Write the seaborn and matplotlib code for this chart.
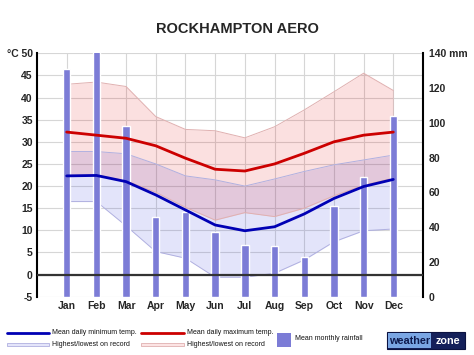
import numpy as np
import pandas as pd
import matplotlib
matplotlib.use("Agg")
import matplotlib.pyplot as plt
import seaborn as sns
from matplotlib.lines import Line2D
from matplotlib.patches import Rectangle

# values
months = ['Jan', 'Feb', 'Mar', 'Apr', 'May', 'Jun', 'Jul', 'Aug', 'Sep', 'Oct', 'Nov', 'Dec']
meanMax = [32.2, 31.5, 30.8, 29.1, 26.3, 23.8, 23.4, 25.0, 27.4, 30.0, 31.5, 32.2]
meanMin = [22.3, 22.4, 21.0, 18.0, 14.6, 11.2, 9.9, 10.8, 13.7, 17.2, 19.9, 21.5]
maxHighest = [43.0, 43.5, 42.5, 35.7, 32.8, 32.5, 30.9, 33.4, 37.2, 41.3, 45.5, 41.6]
maxLowest = [22.4, 22.5, 21.2, 18.6, 15.2, 12.3, 14.0, 13.1, 15.0, 17.8, 20.2, 21.8]
minHighest = [27.8, 27.8, 27.3, 25.0, 22.3, 21.4, 20.0, 21.6, 23.3, 24.8, 25.9, 27.0]
minLowest = [16.5, 16.5, 11.0, 5.2, 3.7, -0.6, -0.6, 0.3, 3.3, 7.4, 9.9, 10.3]
rainfall = [131, 145, 98, 46, 49, 37, 30, 29, 23, 52, 69, 104]

tempTicks = list(range(-5, 55, 5))
tempTickLabels = [str(t) for t in tempTicks[:-1]] + ['°C 50']
rainTicks = list(range(0, 160, 20))
rainTickLabels = [str(r) for r in rainTicks[:-1]] + ['140 mm']

df = pd.DataFrame({
  'pos': np.arange(len(months)),
  'month': months,
  'meanMax': meanMax,
  'meanMin': meanMin,
  'maxHighest': maxHighest,
  'maxLowest': maxLowest,
  'minHighest': minHighest,
  'minLowest': minLowest,
  'rain': rainfall,
})

sns.set_theme(style="white")
plt.rcParams['font.family'] = ['Liberation Sans', 'DejaVu Sans']

W, H = 474, 355
fig = plt.figure(figsize=(W / 100, H / 100), dpi=100)
axLeft, axRight, axTop, axBottom = 37, 423, 53.3, 296.7
ax = fig.add_axes([axLeft / W, 1 - axBottom / H, (axRight - axLeft) / W, (axBottom - axTop) / H])

# record bands
ax.fill_between(df['pos'], df['minLowest'], df['minHighest'], color='#3c46dc', alpha=0.14, lw=0)
ax.fill_between(df['pos'], df['maxLowest'], df['maxHighest'], color='#e60000', alpha=0.12, lw=0)
for col in ['minLowest', 'minHighest']:
  ax.plot(df['pos'], df[col], color='#b0b0e0', lw=0.7)
for col in ['maxLowest', 'maxHighest']:
  ax.plot(df['pos'], df[col], color='#e0b0b0', lw=0.7)

ax.set_ylim(-5, 50)
ax.set_yticks(tempTicks)
ax.set_yticklabels(tempTickLabels)
ax.grid(True, color='#d6d6d6', lw=0.8)
ax.set_axisbelow(True)

# rainfall bars
axRain = ax.twinx()
sns.barplot(data=df, x='pos', y='rain', native_scale=True, width=0.25, color='#7c7cd6',
            saturation=1, ax=axRain)
axRain.set_ylim(0, 140)
axRain.set_yticks(rainTicks)
axRain.set_yticklabels(rainTickLabels)

# mean lines on top
axLine = ax.twinx()
axLine.axhline(0, color='#333333', lw=1.6)
sns.lineplot(data=df, x='pos', y='meanMax', color='#cc0000', lw=2, ax=axLine)
sns.lineplot(data=df, x='pos', y='meanMin', color='#0000b4', lw=2, ax=axLine)
axLine.set_ylim(-5, 50)
axLine.set_yticks([])

ax.set_xlim(-1, 12)
ax.set_xticks(df['pos'])
ax.set_xticklabels(months)

for a in [ax, axRain, axLine]:
  a.set_xlabel('')
  a.set_ylabel('')
  for s in a.spines.values():
    s.set_visible(False)
ax.spines['left'].set_visible(True)
ax.spines['left'].set_color('black')
ax.spines['left'].set_linewidth(1.5)
axRain.spines['right'].set_visible(True)
axRain.spines['right'].set_color('black')
axRain.spines['right'].set_linewidth(1.5)

ax.tick_params(axis='both', length=0, labelsize=7.5, pad=3)
axRain.tick_params(axis='y', length=0, labelsize=7.5, pad=4)
for lab in ax.get_xticklabels() + ax.get_yticklabels() + axRain.get_yticklabels():
  lab.set_fontweight('bold')

fig.text(237 / W, 1 - 29 / H, 'ROCKHAMPTON AERO', ha='center', va='center',
         fontsize=10.5, fontweight='bold')

# legend drawn under the chart
def fx(px):
  return px / W

def fy(py):
  return 1 - py / H

fig.add_artist(Line2D([fx(7), fx(49)], [fy(332.7), fy(332.7)], color='#0000b4', lw=2,
                      transform=fig.transFigure))
fig.add_artist(Line2D([fx(141), fx(184)], [fy(332.7), fy(332.7)], color='#cc0000', lw=2,
                      transform=fig.transFigure))
fig.add_artist(Rectangle((fx(7), fy(345.8)), fx(42), 3 / H, facecolor='#e4e5fa',
                         edgecolor='#b0b0e0', lw=0.6, transform=fig.transFigure))
fig.add_artist(Rectangle((fx(141), fy(345.8)), fx(43), 3 / H, facecolor='#fce4e4',
                         edgecolor='#e0b0b0', lw=0.6, transform=fig.transFigure))
fig.add_artist(Rectangle((fx(277), fy(347)), fx(14), 14 / H, facecolor='#7c7cd6',
                         lw=0, transform=fig.transFigure))
legendStyle = dict(fontsize=5, va='center', ha='left', color='#111111')
fig.text(fx(52), fy(332.7), 'Mean daily minimum temp.', **legendStyle)
fig.text(fx(52), fy(344.3), 'Highest/lowest on record', **legendStyle)
fig.text(fx(187), fy(332.7), 'Mean daily maximum temp.', **legendStyle)
fig.text(fx(187), fy(344.3), 'Highest/lowest on record', **legendStyle)
fig.text(fx(295), fy(339), 'Mean monthly rainfall', **legendStyle)

# weatherzone logo
fig.add_artist(Rectangle((fx(387), fy(348.5)), fx(78), 16.5 / H, facecolor='#14205a',
                         edgecolor='#0b1240', lw=0.8, transform=fig.transFigure))
fig.add_artist(Rectangle((fx(388), fy(348)), fx(43), 15.5 / H, facecolor='#7aa6e4',
                         lw=0, transform=fig.transFigure))
fig.text(fx(409.5), fy(340.5), 'weather', fontsize=7.8, fontweight='bold', color='#0e1a4e',
         ha='center', va='center')
fig.text(fx(448), fy(340.5), 'zone', fontsize=7.8, fontweight='bold', color='white',
         ha='center', va='center')

fig.savefig('out.png', dpi=100)
